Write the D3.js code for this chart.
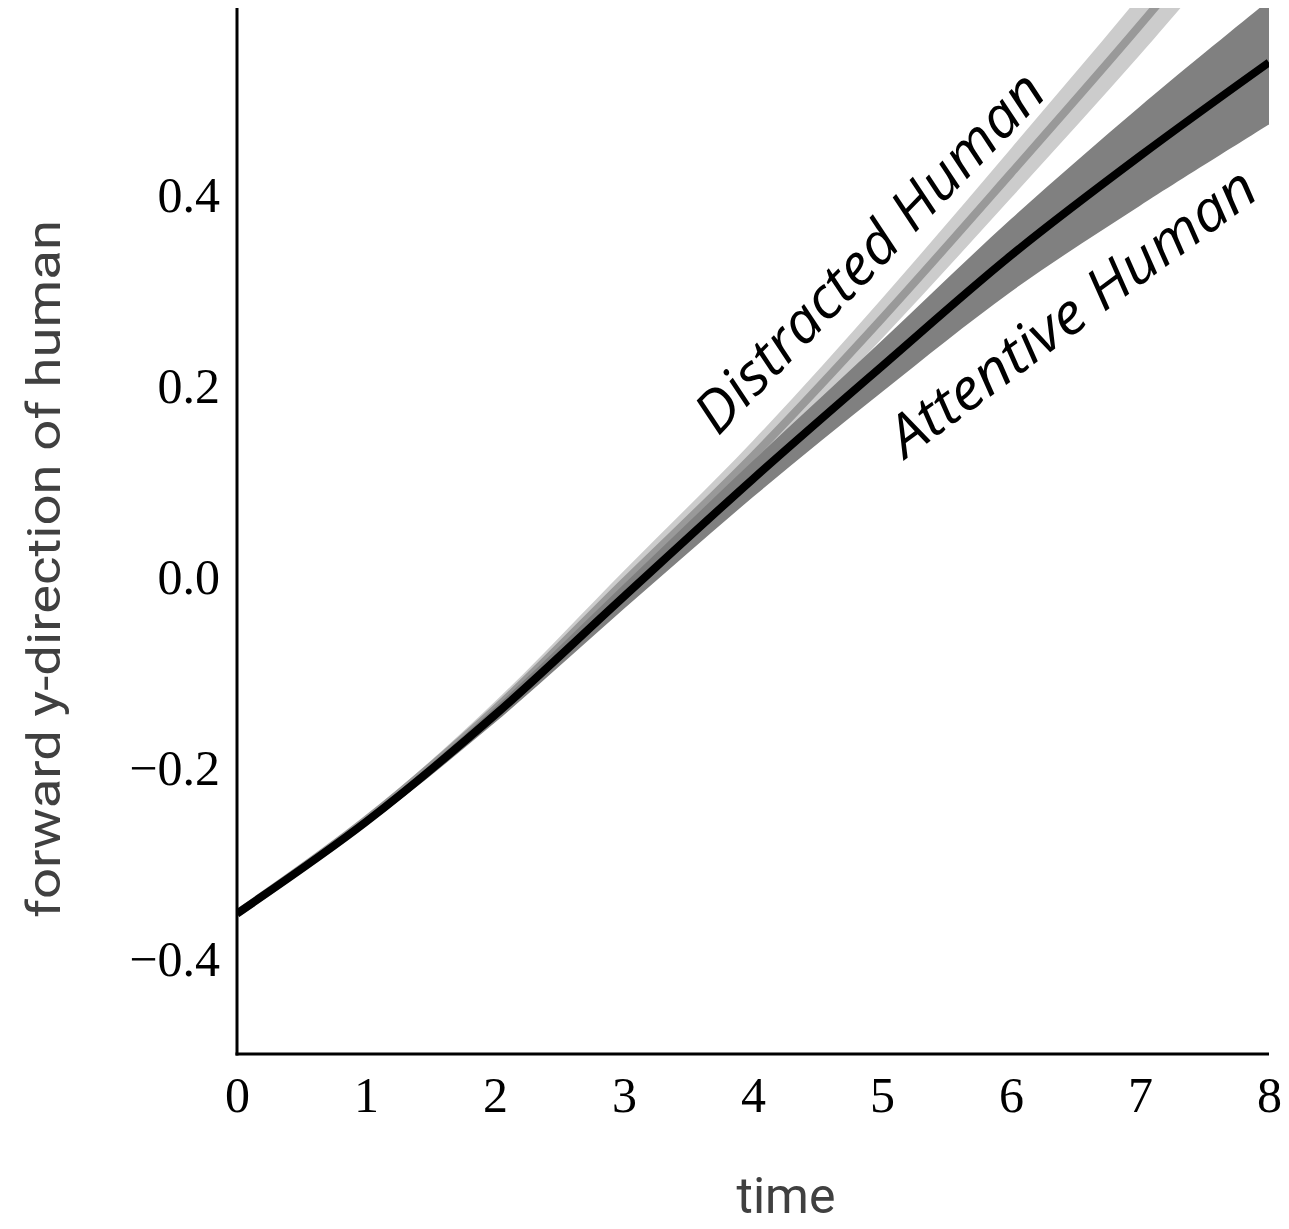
<!DOCTYPE html>
<html>
<head>
<meta charset="utf-8">
<script src="https://cdn.jsdelivr.net/npm/d3@7"></script>
<style>
  html, body { margin: 0; padding: 0; background: #fff; }
  svg { display: block; }
</style>
</head>
<body>
<svg id="chart" width="1289" height="1229"></svg>
<script>
// Time steps
const times = [0, 1, 2, 3, 4, 5, 6, 7, 8];

// Distracted human: mean forward position and band half-width
const distractedMean = [-0.353, -0.255, -0.139, -0.006, 0.126, 0.270, 0.422, 0.577, 0.74];
const distractedSpread = [0, 0.004, 0.008, 0.012, 0.016, 0.021, 0.026, 0.031, 0.036];

// Attentive human: mean forward position and band half-width
const attentiveMean = [-0.353, -0.257, -0.145, -0.021, 0.102, 0.220, 0.336, 0.440, 0.538];
const attentiveSpread = [0, 0.004, 0.008, 0.013, 0.019, 0.027, 0.038, 0.052, 0.065];

// Axis tick labels
const xTicks = [0, 1, 2, 3, 4, 5, 6, 7, 8];
const yTicks = [-0.4, -0.2, 0.0, 0.2, 0.4];

const svg = d3.select("#chart");
const plotLeft = 237, plotRight = 1269, plotTop = 8, plotBottom = 1054;

const x = d3.scaleLinear().domain([0, 8]).range([plotLeft, plotRight]);
const y = d3.scaleLinear().domain([-0.5, 0.595]).range([plotBottom, plotTop]);

svg.append("defs").append("clipPath").attr("id", "plot")
  .append("rect").attr("x", plotLeft).attr("y", plotTop)
  .attr("width", plotRight - plotLeft).attr("height", plotBottom - plotTop);

const plot = svg.append("g").attr("clip-path", "url(#plot)");

function series(mean, spread) {
  return times.map((t, i) => ({ t, m: mean[i], lo: mean[i] - spread[i], hi: mean[i] + spread[i] }));
}
const distracted = series(distractedMean, distractedSpread);
const attentive = series(attentiveMean, attentiveSpread);

const area = d3.area().curve(d3.curveCatmullRom)
  .x(d => x(d.t)).y0(d => y(d.lo)).y1(d => y(d.hi));
const line = d3.line().curve(d3.curveCatmullRom)
  .x(d => x(d.t)).y(d => y(d.m));

// Distracted band and mean
plot.append("path").datum(distracted).attr("d", area).attr("fill", "#cccccc");
plot.append("path").datum(distracted).attr("d", line)
  .attr("fill", "none").attr("stroke", "#999999").attr("stroke-width", 8);

// Attentive band and mean
plot.append("path").datum(attentive).attr("d", area).attr("fill", "#808080");
plot.append("path").datum(attentive).attr("d", line)
  .attr("fill", "none").attr("stroke", "#000000").attr("stroke-width", 8);

// Axes (lines only, no tick marks)
const xAxis = d3.axisBottom(x).tickValues(xTicks).tickSize(0).tickPadding(0).tickFormat(d3.format("d"));
const yAxis = d3.axisLeft(y).tickValues(yTicks).tickSize(0).tickPadding(0)
  .tickFormat(d => d3.format(".1f")(d).replace("-", "\u2212"));

const gx = svg.append("g").attr("transform", `translate(0,${plotBottom})`).call(xAxis);
gx.select(".domain").remove();
gx.selectAll("text")
  .attr("y", 58).attr("dy", null)
  .attr("font-family", "'Liberation Serif', 'DejaVu Serif', serif")
  .attr("font-size", 50).attr("fill", "#000");

const gy = svg.append("g").attr("transform", `translate(${plotLeft},0)`).call(yAxis);
gy.select(".domain").remove();
gy.selectAll("text")
  .attr("x", -17).attr("dy", 17)
  .attr("font-family", "'Liberation Serif', 'DejaVu Serif', serif")
  .attr("font-size", 50).attr("fill", "#000");

svg.append("line").attr("x1", plotLeft).attr("x2", plotLeft).attr("y1", plotTop).attr("y2", plotBottom + 1.5)
  .attr("stroke", "#000").attr("stroke-width", 3);
svg.append("line").attr("x1", plotLeft - 1.5).attr("x2", plotRight).attr("y1", plotBottom).attr("y2", plotBottom)
  .attr("stroke", "#000").attr("stroke-width", 3);

// Axis titles
svg.append("text")
  .attr("x", 786).attr("y", 1213).attr("text-anchor", "middle")
  .attr("font-family", "'Liberation Sans Narrow', Roboto, sans-serif")
  .attr("font-size", 50).attr("fill", "#404040")
  .text("time");

svg.append("text")
  .attr("transform", "translate(60,569) rotate(-90)")
  .attr("text-anchor", "middle")
  .attr("font-family", "'Liberation Sans Narrow', Roboto, sans-serif")
  .attr("font-size", 46).attr("fill", "#404040")
  .attr("textLength", 698).attr("lengthAdjust", "spacingAndGlyphs")
  .text("forward y-direction of human");

// Series labels along the curves
svg.append("text")
  .attr("transform", "translate(718,437) rotate(-46)")
  .attr("font-family", "'Open Sans', 'Noto Sans', sans-serif")
  .attr("font-style", "italic").attr("font-size", 57).attr("fill", "#000")
  .attr("textLength", 476).attr("lengthAdjust", "spacingAndGlyphs")
  .text("Distracted Human");

svg.append("text")
  .attr("transform", "translate(906,459) rotate(-36.5)")
  .attr("font-family", "'Open Sans', 'Noto Sans', sans-serif")
  .attr("font-style", "italic").attr("font-size", 57).attr("fill", "#000")
  .attr("textLength", 442).attr("lengthAdjust", "spacingAndGlyphs")
  .text("Attentive Human");
</script>
</body>
</html>
